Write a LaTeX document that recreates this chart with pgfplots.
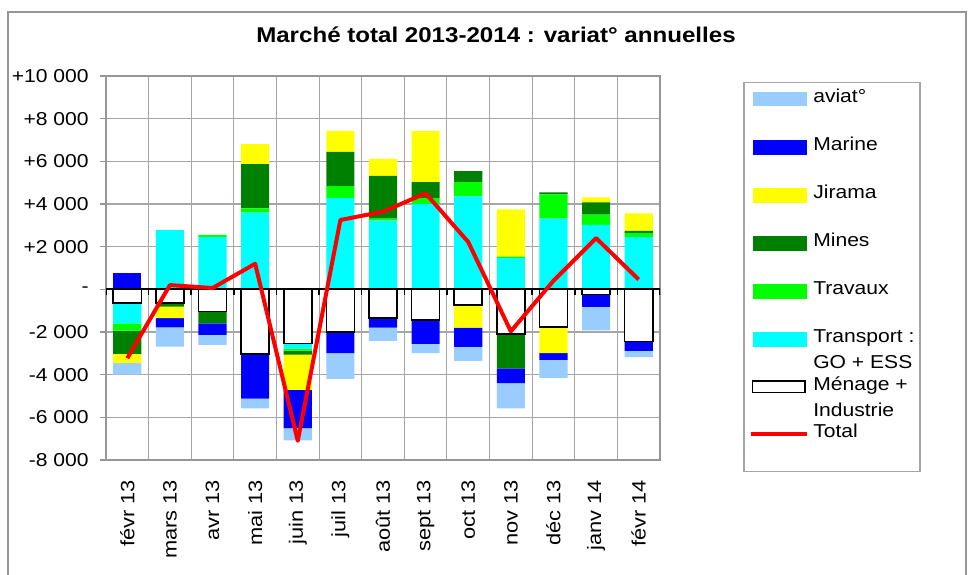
\documentclass[border=0pt]{standalone}
\usepackage{fontspec}
\setmainfont{Liberation Sans}[FakeStretch=1.13]
\usepackage{pgfplots}
\usepackage{pgfplotstable}
\pgfplotsset{compat=1.18}

\definecolor{aviat}{HTML}{99CCFF}
\definecolor{marine}{HTML}{0000FF}
\definecolor{jirama}{HTML}{FFFF00}
\definecolor{mines}{HTML}{008000}
\definecolor{travaux}{HTML}{00FF00}
\definecolor{transport}{HTML}{00FFFF}
\definecolor{gridgray}{HTML}{A6A6A6}
\definecolor{framegray}{HTML}{969696}

% negative parts (stacked downward from zero)
\pgfplotstableread{
m men tra trv mines jir mar avi
0 -650 -950 -340 -1090 -430 0 -540
1 -650 0 0 -160 -545 -430 -905
2 -1030 0 0 -570 0 -530 -470
3 -3030 0 0 0 0 -2090 -455
4 -2540 -240 -90 -190 -1650 -1800 -575
5 -2000 0 0 0 0 -990 -1210
6 -1330 0 0 0 0 -465 -620
7 -1440 0 0 0 0 -1120 -430
8 -740 0 0 0 -1055 -905 -655
9 -2100 0 0 -1600 0 -695 -1180
10 -1770 0 0 0 -1215 -325 -840
11 -250 0 0 0 0 -575 -1100
12 -2450 0 0 0 0 -440 -290
}\negtab

% positive parts (stacked upward from zero)
\pgfplotstableread{
m tra trv mines jir mar avi
0 0 0 0 0 750 0
1 2780 0 0 0 0 0
2 2450 100 0 0 0 0
3 3600 190 2080 935 0 0
4 0 0 0 0 0 0
5 4270 570 1600 990 0 0
6 3220 95 2000 800 0 0
7 3990 280 750 2400 0 0
8 4360 660 520 0 0 0
9 1460 75 0 2215 0 0
10 3310 1145 95 0 0 0
11 3020 480 575 240 0 0
12 2450 190 95 820 0 0
}\postab

\pgfplotstableread{
m tot
0 -3230
1 200
2 60
3 1200
4 -7100
5 3250
6 3640
7 4500
8 2220
9 -1970
10 400
11 2400
12 460
}\tottab

\pgfplotsset{
  myaxis/.style={
    at={(79.5pt,86.25pt)}, anchor=south west,
    width=415.5pt, height=288pt, scale only axis,
    xmin=-0.5, xmax=12.5, ymin=-8000, ymax=10000,
  },
}

\begin{document}
\begin{tikzpicture}[x=1pt,y=1pt]
\useasboundingbox (0,0) rectangle (726,431.25);
\draw[color=framegray, line width=1.1pt] (6,-5) rectangle (724.5,422.25);

% main axis with grid, labels and negative stacks
\begin{axis}[myaxis,
  ybar stacked, bar width=0.66,
  axis line style={draw=framegray, line width=1.5pt},
  scaled y ticks=false,
  ytick={-8000,-6000,...,10000},
  yticklabels={-8 000,-6 000,-4 000,-2 000,-,+2 000,+4 000,+6 000,+8 000,+10 000},
  ytick pos=left, tick align=outside, major tick length=4.5pt,
  ytick style={draw=framegray, line width=0.8pt},
  ymajorgrids,
  xtick={0,...,12},
  xticklabels={févr 13,mars 13,avr 13,mai 13,juin 13,juil 13,août 13,sept 13,oct 13,nov 13,déc 13,janv 14,févr 14},
  xtick style={draw=none},
  minor xtick={-0.5,0.5,...,12.5}, xminorgrids,
  minor tick length=0pt,
  grid style={draw=gridgray, line width=0.8pt},
  minor grid style={draw=gridgray, line width=0.8pt},
  yticklabel style={font=\fontsize{14pt}{16pt}\selectfont, anchor=east, xshift=-5pt},
  xticklabel style={font=\fontsize{14.5pt}{16pt}\selectfont, rotate=90, anchor=east, xshift=-7pt},
]
\addplot[fill=white, draw=black, line width=1.2pt] table[x=m, y=men] {\negtab};
\addplot[fill=transport, draw=none] table[x=m, y=tra] {\negtab};
\addplot[fill=travaux, draw=none] table[x=m, y=trv] {\negtab};
\addplot[fill=mines, draw=none] table[x=m, y=mines] {\negtab};
\addplot[fill=jirama, draw=none] table[x=m, y=jir] {\negtab};
\addplot[fill=marine, draw=none] table[x=m, y=mar] {\negtab};
\addplot[fill=aviat, draw=none] table[x=m, y=avi] {\negtab};
\end{axis}

% positive stacks
\begin{axis}[myaxis, hide axis, ybar stacked, bar width=0.66]
\addplot[fill=transport, draw=none] table[x=m, y=tra] {\postab};
\addplot[fill=travaux, draw=none] table[x=m, y=trv] {\postab};
\addplot[fill=mines, draw=none] table[x=m, y=mines] {\postab};
\addplot[fill=jirama, draw=none] table[x=m, y=jir] {\postab};
\addplot[fill=marine, draw=none] table[x=m, y=mar] {\postab};
\addplot[fill=aviat, draw=none] table[x=m, y=avi] {\postab};
\end{axis}

% zero line and total
\begin{axis}[myaxis, hide axis]
\draw[black, line width=1.5pt] (axis cs:-0.5,0) -- (axis cs:12.5,0);
\pgfplotsinvokeforeach{-0.5,0.5,1.5,2.5,3.5,4.5,5.5,6.5,7.5,8.5,9.5,10.5,11.5,12.5}{
  \draw[black, line width=1.2pt] (axis cs:#1,0) -- ++(0pt,-4.3pt);
}
\addplot[red, line width=3pt, line join=round, mark=none] table[x=m, y=tot] {\tottab};
\end{axis}

% title
\node[anchor=base, font=\bfseries\fontsize{16pt}{18pt}\selectfont] at (372,399.2) {Marché total 2013-2014 : variat° annuelles};

% legend
\draw[color=gridgray, line width=0.8pt] (558,77.5) rectangle (690,369.2);
\fill[aviat] (564.5,351.4) rectangle (605.25,362.6);
\fill[marine] (564.5,315.2) rectangle (605.25,326.4);
\fill[jirama] (564.5,279.2) rectangle (605.25,290.4);
\fill[mines] (564.5,243.2) rectangle (605.25,254.4);
\fill[travaux] (564.5,207.2) rectangle (605.25,218.4);
\fill[transport] (564.5,171.2) rectangle (605.25,182.4);
\draw[black, line width=1.1pt, fill=white] (564.5,136.9) rectangle (603.75,145.4);
\draw[red, line width=2.4pt] (563.5,105.75) -- (605.25,105.75);
\begin{scope}[every node/.style={anchor=mid west, inner sep=0pt, font=\fontsize{14pt}{16pt}\selectfont}]
\node at (609.75,357) {aviat°};
\node at (609.75,320.8) {Marine};
\node at (609.75,284.8) {Jirama};
\node at (609.75,248.8) {Mines};
\node at (609.75,212.8) {Travaux};
\node at (609.75,177) {Transport :};
\node at (609.75,157.5) {GO + ESS};
\node at (609.75,141.2) {Ménage +};
\node at (609.75,121.5) {Industrie};
\node at (609.75,105.75) {Total};
\end{scope}
\end{tikzpicture}
\end{document}
